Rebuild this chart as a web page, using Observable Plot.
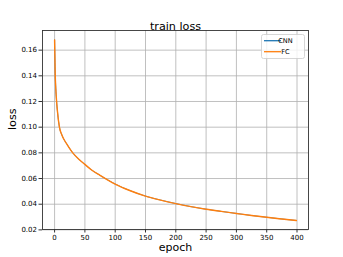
<!DOCTYPE html>
<html>
<head>
<meta charset="utf-8">
<script src="https://cdn.jsdelivr.net/npm/d3@7"></script>
<script src="https://cdn.jsdelivr.net/npm/@observablehq/plot@0.6"></script>
<style>
  html, body { margin: 0; padding: 0; background: #fff; }
  svg { font-family: "DejaVu Sans", sans-serif; }
</style>
</head>
<body>
<div id="chart"></div>
<script>
const title = "train loss";
const xLabel = "epoch";
const yLabel = "loss";
const seriesNames = ["CNN", "FC"];
const seriesColors = ["#1f77b4", "#ff7f0e"];
const epochs = [0, 1, 2, 3, 5, 8, 12, 16, 20, 30, 40, 50, 60, 75, 100, 125, 150, 175, 200, 225, 250, 275, 300, 325, 350, 375, 399];
const cnnLoss = [0.168, 0.142, 0.130, 0.122, 0.111, 0.100, 0.094, 0.090, 0.087, 0.080, 0.075, 0.071, 0.067, 0.0625, 0.0557, 0.0505, 0.0463, 0.0432, 0.0405, 0.0381, 0.0361, 0.0344, 0.0328, 0.0312, 0.0298, 0.0285, 0.0273];
const fcLoss = [0.168, 0.142, 0.130, 0.122, 0.111, 0.100, 0.094, 0.090, 0.087, 0.080, 0.075, 0.071, 0.067, 0.0625, 0.0557, 0.0505, 0.0463, 0.0432, 0.0405, 0.0381, 0.0361, 0.0344, 0.0328, 0.0312, 0.0298, 0.0285, 0.0273];
const xTicks = [0, 50, 100, 150, 200, 250, 300, 350, 400];
const yTicks = [0.02, 0.04, 0.06, 0.08, 0.10, 0.12, 0.14, 0.16];

const cnnRows = epochs.map((e, i) => ({epoch: e, loss: cnnLoss[i], series: "CNN"}));
const fcRows = epochs.map((e, i) => ({epoch: e, loss: fcLoss[i], series: "FC"}));

const plot = Plot.plot({
  width: 343,
  height: 257,
  marginLeft: 42,
  marginRight: 35,
  marginTop: 30,
  marginBottom: 28,
  style: {fontFamily: "DejaVu Sans, sans-serif", background: "#fff", color: "#000"},
  x: {domain: [-19.95, 418.95]},
  y: {domain: [0.0203, 0.1753]},
  color: {domain: seriesNames, range: seriesColors},
  marks: [
    Plot.gridX(xTicks, {stroke: "#b0b0b0", strokeOpacity: 1, strokeWidth: 0.8}),
    Plot.gridY(yTicks, {stroke: "#b0b0b0", strokeOpacity: 1, strokeWidth: 0.8}),
    Plot.axisX(xTicks, {tickSize: 3.5, tickPadding: 2, fontSize: 7, tickFormat: d3.format("d"), label: null, stroke: "#333"}),
    Plot.axisY(yTicks, {tickSize: 3.5, tickPadding: 2, fontSize: 7, tickFormat: d3.format(".2f"), label: null, stroke: "#333"}),
    Plot.line(cnnRows, {x: "epoch", y: "loss", stroke: "series", strokeWidth: 0.8, curve: "monotone-x"}),
    Plot.line(fcRows, {x: "epoch", y: "loss", stroke: "series", strokeWidth: 1.4, curve: "monotone-x"}),
    Plot.frame({stroke: "#333", strokeWidth: 0.9}),
    Plot.text([title], {frameAnchor: "top", dy: -8.5, fontSize: 11.2, fill: "#000"}),
    Plot.text([xLabel], {frameAnchor: "bottom", dy: 21, fontSize: 11, fill: "#000"}),
    Plot.text([yLabel], {frameAnchor: "left", dx: -30, rotate: -90, fontSize: 11.2, fill: "#000"})
  ]
});

// Legend
const svg = d3.select(plot);
const lg = svg.append("g").attr("font-family", "DejaVu Sans, sans-serif");
lg.append("rect").attr("x", 261.5).attr("y", 34.5).attr("width", 43).attr("height", 24)
  .attr("rx", 2).attr("fill", "#fff").attr("fill-opacity", 0.8).attr("stroke", "#ccc").attr("stroke-width", 0.8);
seriesNames.forEach((name, i) => {
  const y = 40.7 + i * 11;
  lg.append("line").attr("x1", 264).attr("x2", 281).attr("y1", y).attr("y2", y)
    .attr("stroke", seriesColors[i]).attr("stroke-width", 1.3);
  lg.append("text").attr("x", 285.5).attr("y", y).attr("dy", "0.35em")
    .attr("font-size", 6.6).attr("fill", "#000").text(name);
});

document.getElementById("chart").appendChild(plot);
</script>
</body>
</html>
